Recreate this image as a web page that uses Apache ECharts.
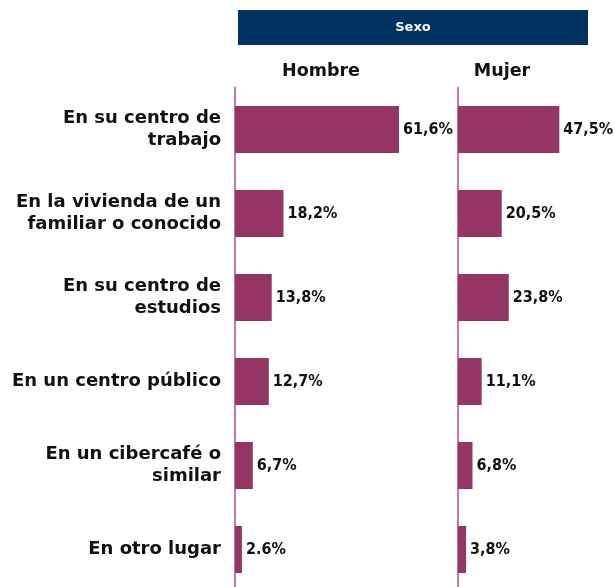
<!DOCTYPE html>
<html>
<head>
<meta charset="utf-8">
<script src="https://cdn.jsdelivr.net/npm/echarts@6/dist/echarts.min.js"></script>
<style>
  html, body { margin: 0; padding: 0; background: #fff; }
  #chart { width: 615px; height: 587px; }
</style>
</head>
<body>
<div id="chart"></div>
<script>
// categorias (de arriba hacia abajo)
const categories = [
    'En su centro de\ntrabajo',
    'En la vivienda de un\nfamiliar o conocido',
    'En su centro de\nestudios',
    'En un centro público',
    'En un cibercafé o\nsimilar',
    'En otro lugar'
];
const hombreValues = [61.6, 18.2, 13.8, 12.7, 6.7, 2.6];
const mujerValues = [47.5, 20.5, 23.8, 11.1, 6.8, 3.8];
const hombreLabels = ['61,6%', '18,2%', '13,8%', '12,7%', '6,7%', '2.6%'];
const mujerLabels = ['47,5%', '20,5%', '23,8%', '11,1%', '6,8%', '3,8%'];
const panelTitles = ['Hombre', 'Mujer'];
const headerText = 'Sexo';

const barColor = '#953563';
const axisColor = '#bf7aa0';

let chart = echarts.init(document.getElementById('chart'));

function valueLabel(labels) {
    return {
        show: true,
        position: 'right',
        distance: 4,
        color: '#111',
        fontFamily: 'DejaVu Sans Condensed',
        fontWeight: 'bold',
        fontSize: 16,
        formatter: function (p) {
            return labels[p.dataIndex];
        }
    };
}

let option = {
    animation: false,
    grid: [
        { left: 235, top: 87.5, width: 213, height: 504, outerBoundsMode: 'none' },
        { left: 458, top: 87.5, width: 128, height: 504, outerBoundsMode: 'none' }
    ],
    xAxis: [
        { gridIndex: 0, type: 'value', min: 0, max: 80, show: false },
        { gridIndex: 1, type: 'value', min: 0, max: 60, show: false }
    ],
    yAxis: [
        {
            gridIndex: 0,
            type: 'category',
            data: categories,
            inverse: true,
            axisLine: { show: true, lineStyle: { color: axisColor, width: 2 } },
            axisTick: { show: false },
            splitLine: { show: false },
            axisLabel: {
                margin: 14,
                color: '#111',
                fontFamily: 'DejaVu Sans',
                fontWeight: 'bold',
                fontSize: 18,
                lineHeight: 22
            }
        },
        {
            gridIndex: 1,
            type: 'category',
            data: categories,
            inverse: true,
            axisLine: { show: true, lineStyle: { color: axisColor, width: 2 } },
            axisTick: { show: false },
            splitLine: { show: false },
            axisLabel: { show: false }
        }
    ],
    series: [
        {
            name: panelTitles[0],
            type: 'bar',
            xAxisIndex: 0,
            yAxisIndex: 0,
            barWidth: 47,
            itemStyle: { color: barColor },
            label: valueLabel(hombreLabels),
            data: hombreValues
        },
        {
            name: panelTitles[1],
            type: 'bar',
            xAxisIndex: 1,
            yAxisIndex: 1,
            barWidth: 47,
            itemStyle: { color: barColor },
            label: valueLabel(mujerLabels),
            data: mujerValues
        }
    ],
    graphic: [
        {
            type: 'rect',
            shape: { x: 238, y: 10, width: 350, height: 35 },
            style: { fill: '#00335f' }
        },
        {
            type: 'text',
            x: 413,
            y: 28,
            style: {
                text: headerText,
                fill: '#fff',
                font: 'bold 13px "DejaVu Sans"',
                textAlign: 'center',
                textVerticalAlign: 'middle'
            }
        },
        {
            type: 'text',
            x: 321,
            y: 71,
            style: {
                text: panelTitles[0],
                fill: '#111',
                font: 'bold 17.5px "DejaVu Sans"',
                textAlign: 'center',
                textVerticalAlign: 'middle'
            }
        },
        {
            type: 'text',
            x: 502,
            y: 71,
            style: {
                text: panelTitles[1],
                fill: '#111',
                font: 'bold 17.5px "DejaVu Sans"',
                textAlign: 'center',
                textVerticalAlign: 'middle'
            }
        }
    ]
};

chart.setOption(option);
</script>
</body>
</html>
